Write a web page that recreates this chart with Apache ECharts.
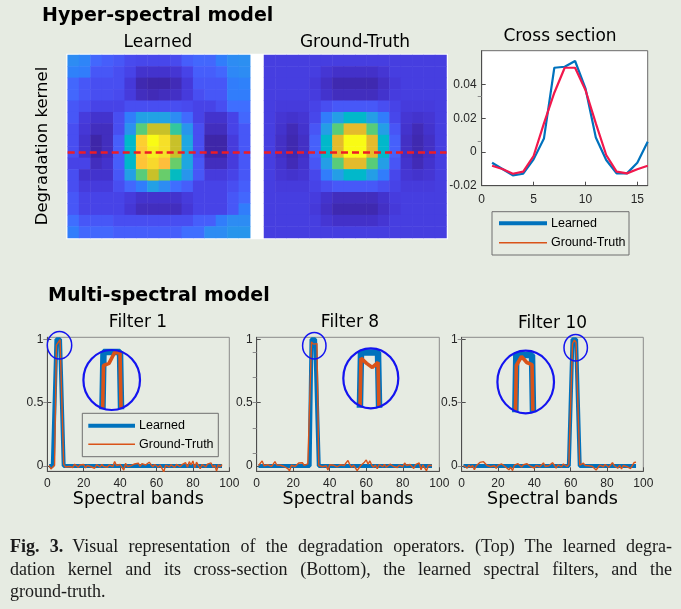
<!DOCTYPE html>
<html><head><meta charset="utf-8">
<script src="https://cdn.jsdelivr.net/npm/echarts@6/dist/echarts.min.js"></script>
<style>
html,body{margin:0;padding:0;background:#e6ebe2;}
#wrap{position:relative;width:681px;height:609px;overflow:hidden;}
#chart{position:absolute;left:0;top:0;width:681px;height:609px;}
#cap{position:absolute;left:10px;top:535px;width:662px;font-family:'Liberation Serif',serif;font-size:18px;color:#1a1a1a;line-height:22.5px;}
#cap div{white-space:nowrap;}
.j{text-align:justify;text-align-last:justify;}
</style></head>
<body><div id="wrap"><div id="chart"></div>
<div id="cap">
<div class="j"><b>Fig. 3.</b>&ensp;Visual representation of the degradation operators. (Top) The learned degra-</div>
<div class="j">dation kernel and its cross-section (Bottom), the learned spectral filters, and the</div>
<div>ground-truth.</div>
</div></div>
<script>
const BG = '#e6ebe2';
const BLUE = '#0072bd', ORANGE = '#d95319', RED = '#f2184c';

const parula = ['#3e26a8','#402ab4','#422ebf','#4332cb','#4537d5','#463cde','#4741e5','#4747eb','#484df0','#4852f4','#4758f8','#465efb','#4563fc','#4269fe','#3e6fff','#3875fe','#327bfc','#2f81fa','#2e87f7','#2d8cf3','#2b91ef','#2796eb','#259be7','#23a0e5','#20a5e3','#1ca9df','#18addb','#12b1d6','#08b5d0','#01b8ca','#02bac3','#0bbdbc','#19bfb6','#24c1ae','#2cc3a7','#31c69f','#37c897','#3fca8e','#4acb84','#57cc7a','#64cd6f','#71cc64','#80cc59','#8fca4e','#9dc943','#abc739','#b9c431','#c5c22a','#d1bf27','#dcbd29','#e6bb2d','#efba36','#f8ba3d','#febe3c','#fec338','#fec934','#fccf30','#f9d62d','#f7dc2a','#f5e327','#f5e924','#f5ef20','#f7f51b','#f9fb15'];

// Learned degradation kernel (16x16), colour level (0 = darkest, 1 = brightest)
const kernelLearned = [
 [0.30,0.28,0.20,0.175,0.155,0.12,0.11,0.11,0.11,0.12,0.175,0.20,0.20,0.26,0.30,0.31],
 [0.27,0.26,0.155,0.155,0.13,0.10,0.05,0.05,0.05,0.06,0.10,0.175,0.175,0.20,0.29,0.30],
 [0.20,0.155,0.13,0.13,0.13,0.07,0.01,0.0,0.0,0.02,0.07,0.155,0.155,0.155,0.26,0.27],
 [0.20,0.155,0.13,0.13,0.12,0.075,0.03,0.02,0.03,0.04,0.075,0.13,0.155,0.155,0.26,0.26],
 [0.155,0.13,0.10,0.10,0.10,0.13,0.13,0.13,0.13,0.13,0.12,0.10,0.10,0.13,0.22,0.22],
 [0.155,0.075,0.05,0.05,0.13,0.26,0.365,0.37,0.37,0.30,0.21,0.10,0.05,0.05,0.10,0.20],
 [0.13,0.065,0.03,0.03,0.13,0.32,0.62,0.75,0.75,0.56,0.33,0.13,0.03,0.03,0.10,0.155],
 [0.13,0.05,0.0,0.03,0.175,0.46,0.89,1.0,0.93,0.75,0.39,0.13,0.0,0.0,0.075,0.155],
 [0.13,0.05,0.0,0.03,0.175,0.46,0.87,0.97,0.93,0.75,0.39,0.13,0.0,0.0,0.075,0.155],
 [0.10,0.10,0.03,0.05,0.175,0.46,0.86,0.91,0.84,0.64,0.39,0.155,0.03,0.03,0.075,0.155],
 [0.13,0.05,0.05,0.05,0.155,0.365,0.62,0.75,0.64,0.48,0.33,0.155,0.075,0.075,0.10,0.155],
 [0.13,0.075,0.075,0.075,0.13,0.20,0.26,0.365,0.30,0.22,0.175,0.10,0.10,0.10,0.13,0.175],
 [0.155,0.10,0.10,0.10,0.10,0.075,0.05,0.05,0.05,0.05,0.075,0.10,0.10,0.10,0.155,0.20],
 [0.155,0.10,0.10,0.10,0.10,0.065,0.03,0.03,0.03,0.03,0.065,0.10,0.10,0.10,0.155,0.26],
 [0.22,0.155,0.155,0.155,0.13,0.13,0.13,0.13,0.13,0.13,0.13,0.175,0.175,0.26,0.30,0.30],
 [0.26,0.20,0.20,0.20,0.175,0.175,0.175,0.175,0.175,0.175,0.22,0.22,0.30,0.30,0.33,0.33]
];
// Ground-truth degradation kernel (16x16)
const kernelTruth = [
 [0.085,0.085,0.085,0.085,0.085,0.085,0.085,0.085,0.085,0.085,0.085,0.085,0.085,0.085,0.085,0.085],
 [0.085,0.085,0.085,0.085,0.085,0.06,0.045,0.045,0.045,0.045,0.06,0.085,0.085,0.085,0.085,0.085],
 [0.085,0.085,0.085,0.085,0.07,0.04,0.01,0.01,0.01,0.01,0.04,0.07,0.085,0.085,0.085,0.085],
 [0.085,0.085,0.085,0.085,0.08,0.05,0.03,0.03,0.03,0.03,0.05,0.08,0.085,0.085,0.085,0.085],
 [0.085,0.075,0.075,0.075,0.10,0.13,0.16,0.16,0.16,0.16,0.13,0.10,0.075,0.075,0.075,0.085],
 [0.085,0.06,0.05,0.06,0.11,0.26,0.36,0.46,0.46,0.36,0.26,0.11,0.06,0.05,0.06,0.085],
 [0.085,0.05,0.02,0.05,0.15,0.36,0.62,0.79,0.79,0.62,0.36,0.15,0.05,0.02,0.05,0.085],
 [0.085,0.04,0.01,0.04,0.18,0.46,0.79,1.0,1.0,0.79,0.46,0.18,0.04,0.01,0.04,0.085],
 [0.085,0.04,0.01,0.04,0.18,0.46,0.79,1.0,1.0,0.79,0.46,0.18,0.04,0.01,0.04,0.085],
 [0.085,0.05,0.02,0.05,0.15,0.36,0.62,0.79,0.79,0.62,0.36,0.15,0.05,0.02,0.05,0.085],
 [0.085,0.06,0.05,0.06,0.11,0.26,0.36,0.46,0.46,0.36,0.26,0.11,0.06,0.05,0.06,0.085],
 [0.085,0.075,0.075,0.075,0.10,0.13,0.16,0.16,0.16,0.16,0.13,0.10,0.075,0.075,0.075,0.085],
 [0.085,0.085,0.085,0.085,0.08,0.05,0.03,0.03,0.03,0.03,0.05,0.08,0.085,0.085,0.085,0.085],
 [0.085,0.085,0.085,0.085,0.07,0.04,0.01,0.01,0.01,0.01,0.04,0.07,0.085,0.085,0.085,0.085],
 [0.085,0.085,0.085,0.085,0.085,0.06,0.045,0.045,0.045,0.045,0.06,0.085,0.085,0.085,0.085,0.085],
 [0.085,0.085,0.085,0.085,0.085,0.085,0.085,0.085,0.085,0.085,0.085,0.085,0.085,0.085,0.085,0.085]
];
const crossRow = 8; // 0-based row of the cross section

// Cross section
const crossPos = [1,2,3,4,5,6,7,8,9,10,11,12,13,14,15,16];
const crossLearned = [-0.0064,-0.0101,-0.0139,-0.0129,-0.0044,0.0080,0.0499,0.0505,0.0539,0.0377,0.0086,-0.0048,-0.0127,-0.0127,-0.0064,0.0061];
const crossTruth   = [-0.0082,-0.0101,-0.0129,-0.0117,-0.0024,0.0169,0.0351,0.0499,0.0499,0.0367,0.0169,-0.0018,-0.0117,-0.0127,-0.0103,-0.0082];
const crossXTicks = [0,5,10,15];
const crossYTicks = [-0.02,0,0.02,0.04];

// Spectral filters (96 bands)
const f1Learned = [
 0,0,0,0,1,1,1,1,0,0,0,0,0,0,0,0,
 0,0,0,0,0,0,0,0,0,0,0,0,0,0,0,0,
 0,0,0,0,0,0,0,0,0,0,0,0,0,0,0,0,
 0,0,0,0,0,0,0,0,0,0,0,0,0,0,0,0,
 0,0,0,0,0,0,0,0,0,0,0,0,0,0,0,0,
 0,0,0,0,0,0,0,0,0,0,0,0,0,0,0,0];
const f1Truth = [
 0.004,-0.024,-0.012,0.006,0.955,0.962,0.998,1.0,0.012,-0.008,0.006,-0.004,0.010,-0.012,0.014,0.002,
 -0.010,0.008,-0.004,0.012,-0.015,0.004,0.016,-0.006,0.002,-0.018,0.010,0.004,-0.008,0.012,-0.004,0.006,
 -0.010,0.008,0.014,-0.006,0.036,0.004,-0.010,0.012,0.006,-0.032,0.020,-0.004,0.010,0.002,-0.012,0.016,
 0.006,0.022,-0.004,0.018,0.028,0.008,0.014,0.030,0.010,-0.006,0.012,0.004,-0.010,0.008,0.014,-0.046,
 0.006,0.018,-0.008,0.010,0.004,-0.012,0.012,0.006,-0.006,0.010,0.002,0.026,-0.010,0.034,0.008,0.040,
 -0.014,0.030,0.004,-0.022,0.012,0.006,-0.008,0.014,0.002,0.024,-0.010,0.006,-0.040,0.010,-0.006,0.012];
const f8Learned = [
 0,0,0,0,0,0,0,0,0,0,0,0,0,0,0,0,
 0,0,0,0,0,0,0,0,0,0,0,0,0,1,1,1,
 1,0,0,0,0,0,0,0,0,0,0,0,0,0,0,0,
 0,0,0,0,0,0,0,0,0,0,0,0,0,0,0,0,
 0,0,0,0,0,0,0,0,0,0,0,0,0,0,0,0,
 0,0,0,0,0,0,0,0,0,0,0,0,0,0,0,0];
const f8Truth = [
 0.004,0.012,0.040,0.002,-0.006,0.010,0.004,-0.004,0.014,0.034,0.008,-0.006,0.006,0.012,-0.004,0.002,
 -0.020,-0.038,0.006,0.012,-0.004,0.008,0.024,0.018,0.026,0.004,0.010,0.016,0.020,0.980,0.962,0.948,
 0.966,0.004,0.010,-0.006,0.008,0.002,-0.032,0.010,-0.004,0.006,0.012,-0.008,0.004,0.010,0.018,0.004,
 0.026,0.044,0.010,-0.010,0.006,-0.014,-0.036,-0.028,0.004,0.012,0.030,0.048,0.014,0.040,0.006,-0.010,
 0.008,-0.022,0.010,0.002,-0.006,0.012,-0.010,0.004,0.014,0.026,-0.004,0.008,-0.012,0.006,0.010,-0.006,
 0.024,0.004,-0.010,0.012,0.002,-0.020,0.010,0.004,0.024,-0.030,0.008,0.012,-0.038,0.006,0.010,0.004];
const f10Learned = [
 0,0,0,0,0,0,0,0,0,0,0,0,0,0,0,0,
 0,0,0,0,0,0,0,0,0,0,0,0,0,0,0,0,
 0,0,0,0,0,0,0,0,0,0,0,0,0,0,0,0,
 0,0,0,0,0,0,0,0,0,0,0,0,1,1,1,1,
 0,0,0,0,0,0,0,0,0,0,0,0,0,0,0,0,
 0,0,0,0,0,0,0,0,0,0,0,0,0,0,0,0];
const f10Truth = [
 0.004,-0.006,-0.018,0.006,-0.012,0.004,-0.030,0.002,0.010,0.028,0.020,0.034,0.026,0.004,0.010,-0.006,
 0.008,0.002,-0.018,0.004,0.012,0.016,0.002,-0.006,0.008,-0.030,-0.010,-0.036,0.006,0.012,0.018,0.004,
 -0.008,0.010,0.002,0.018,0.006,-0.004,0.010,-0.016,0.004,0.012,-0.006,0.008,0.024,-0.004,0.010,0.002,
 0.014,0.026,0.006,-0.018,0.008,0.004,-0.008,0.016,0.006,-0.004,0.012,0.008,0.965,0.995,0.975,0.968,
 0.006,0.012,0.022,0.004,-0.006,0.002,0.010,-0.004,0.008,-0.032,-0.020,0.006,0.010,-0.006,0.012,0.004,
 -0.010,0.008,0.026,0.002,-0.008,-0.018,0.006,-0.024,0.004,0.010,-0.006,0.008,-0.020,0.004,0.028,0.030];
const filterXTicks = [0,20,40,60,80,100];
const filterYTicks = [0,0.5,1];
const filter8RightTicks = [0.1,0.3,0.5,0.7,0.9];
const crossRightTicks = [0.0333,0.0063];
const filterTitles = ['Filter 1','Filter 8','Filter 10'];
// zoomed windows of the insets [xmin,xmax]
const insetWindows = [[2,11],[27,36],[58,67]];

const bands = f1Truth.map((_, i) => i + 1);
const pair = (xs, ys) => xs.map((x, i) => [x, ys[i]]);
const cells = m => { const d = []; m.forEach((row, r) => row.forEach((v, c) => d.push([c, r, v]))); return d; };
const idx16 = crossPos.map(String);

const TICK = '#4d4d4d', LAB = '#262626';
const SANS = 'Liberation Sans', DV = 'DejaVu Sans';

const grids = [
  {left:67.7, top:55, width:182.5, height:183},
  {left:264, top:55, width:182.5, height:183},
  {left:481.7, top:50.7, width:166, height:135, show:true, backgroundColor:'#fff', borderColor:'#6a6a6a', borderWidth:1},
  {left:47.3, top:337.3, width:182, height:134, show:true, borderColor:'#8a8a8a', borderWidth:1},
  {left:256.7, top:337.3, width:182.6, height:134, show:true, borderColor:'#8a8a8a', borderWidth:1},
  {left:461.7, top:337.3, width:181.6, height:134, show:true, borderColor:'#8a8a8a', borderWidth:1},
  {left:87, top:349, width:49.5, height:57},
  {left:344, top:349.5, width:51, height:55},
  {left:500.6, top:352, width:47.1, height:57}
];

function valAxis(gi, min, max, ticks, extra) {
  return Object.assign({
    type:'value', gridIndex:gi, min:min, max:max,
    axisLine:{show:true, onZero:false, lineStyle:{color:TICK, width:1}},
    axisTick:{show:true, inside:true, length:4, customValues:ticks, lineStyle:{color:TICK}},
    axisLabel:{show:true, customValues:ticks, color:LAB, fontFamily:SANS, fontSize:12},
    splitLine:{show:false}
  }, extra || {});
}
function hiddenAxis(gi, min, max, inverse) {
  return {type:'value', gridIndex:gi, min:min, max:max, show:false, inverse:!!inverse, splitLine:{show:false}};
}
function tickOnlyAxis(gi, min, max, ticks) {
  return {type:'value', gridIndex:gi, position:'right', min:min, max:max,
    axisLine:{show:false}, axisLabel:{show:false}, splitLine:{show:false},
    axisTick:{show:true, inside:true, length:4, customValues:ticks, lineStyle:{color:'#8a8a8a'}}};
}

const xAxis = [
  {type:'category', gridIndex:0, data:idx16, show:false},
  {type:'category', gridIndex:1, data:idx16, show:false},
  valAxis(2, 0, 16, crossXTicks, {axisLabel:{customValues:crossXTicks, color:LAB, fontFamily:SANS, fontSize:12, margin:8}}),
];
const yAxis = [
  {type:'category', gridIndex:0, data:idx16, show:false, inverse:true},
  {type:'category', gridIndex:1, data:idx16, show:false, inverse:true},
  valAxis(2, -0.02, 0.06, crossYTicks, {axisLabel:{customValues:crossYTicks, color:LAB, fontFamily:SANS, fontSize:12, margin:5}}),
];
[3,4,5].forEach(gi => {
  xAxis.push(valAxis(gi, 0, 100, filterXTicks, {
    axisLabel:{customValues:filterXTicks, color:LAB, fontFamily:SANS, fontSize:12, margin:6},
    name:'Spectral bands', nameLocation:'middle', nameGap:17,
    nameTextStyle:{fontFamily:DV, fontSize:17.5, color:'#000', verticalAlign:'top'}
  }));
  yAxis.push(valAxis(gi, -0.042, 1.016, filterYTicks, {
    axisLabel:{customValues:filterYTicks, color:LAB, fontFamily:SANS, fontSize:12, margin:4}
  }));
});
insetWindows.forEach((w, k) => {
  xAxis.push(hiddenAxis(6 + k, w[0], w[1]));
  yAxis.push(hiddenAxis(6 + k, 0.82, 1.01));
});
// mirrored inner ticks on the right edges
yAxis.push(tickOnlyAxis(2, -0.02, 0.06, crossRightTicks));   // 9
yAxis.push(tickOnlyAxis(3, -0.042, 1.016, filterYTicks));    // 10
yAxis.push(tickOnlyAxis(4, -0.042, 1.016, filter8RightTicks)); // 11
yAxis.push(tickOnlyAxis(5, -0.042, 1.016, filterYTicks));    // 12

const dashLine = {silent:true, symbol:'none', label:{show:false},
  lineStyle:{color:'#ee1c25', width:2.6, type:[7,4]}, data:[{yAxis: crossRow}]};

function heat(gi, m) {
  return {type:'heatmap', xAxisIndex:gi, yAxisIndex:gi, data:cells(m), emphasis:{disabled:true},
    itemStyle:{borderWidth:0}, markLine:dashLine, z:2};
}
function line(xi, yi, xs, ys, color, width, z) {
  return {type:'line', xAxisIndex:xi, yAxisIndex:yi, data:pair(xs, ys), symbol:'none', clip:true,
    lineStyle:{color:color, width:width}, z:z || 3, silent:true};
}

const learnedF = [f1Learned, f8Learned, f10Learned];
const truthF = [f1Truth, f8Truth, f10Truth];

const series = [
  heat(0, kernelLearned),
  heat(1, kernelTruth),
  line(2, 2, crossPos, crossLearned, BLUE, 2.2, 3),
  line(2, 2, crossPos, crossTruth, RED, 2.2, 4)
];
for (let k = 0; k < 3; k++) {
  series.push(line(3 + k, 3 + k, bands, learnedF[k], BLUE, 4, 3));
  series.push(line(3 + k, 3 + k, bands, truthF[k], ORANGE, 1.4, 4));
}
for (let k = 0; k < 3; k++) {
  series.push(line(6 + k, 6 + k, bands, learnedF[k], BLUE, 6.5, 5));
  series.push(line(6 + k, 6 + k, bands, truthF[k], ORANGE, 3.6, 6));
}

function txt(text, x, y, size, opts) {
  return Object.assign({type:'text', x:x, y:y, z:20, silent:true,
    style:{text:text, fontSize:size, fontFamily:DV, fill:'#000', align:'center', verticalAlign:'middle'}}, opts || {});
}
function legendBox(x, y, w, h, ly1, ly2, lx1, lx2, tx) {
  return [
    {type:'rect', z:20, silent:true, shape:{x:x, y:y, width:w, height:h}, style:{fill:BG, stroke:'#6e6e6e', lineWidth:1}},
    {type:'line', z:21, silent:true, shape:{x1:lx1, y1:ly1, x2:lx2, y2:ly1}, style:{stroke:BLUE, lineWidth:4}},
    {type:'line', z:21, silent:true, shape:{x1:lx1, y1:ly2, x2:lx2, y2:ly2}, style:{stroke:ORANGE, lineWidth:1.5}},
    {type:'text', z:21, silent:true, x:tx, y:ly1, style:{text:'Learned', fontSize:12.5, fontFamily:SANS, fill:'#000', align:'left', verticalAlign:'middle'}},
    {type:'text', z:21, silent:true, x:tx, y:ly2, style:{text:'Ground-Truth', fontSize:12.5, fontFamily:SANS, fill:'#000', align:'left', verticalAlign:'middle'}}
  ];
}
function ell(cx, cy, rx, ry, w) {
  return {type:'ellipse', z:22, silent:true, shape:{cx:cx, cy:cy, rx:rx, ry:ry}, style:{fill:null, stroke:'#1414f0', lineWidth:w}};
}

const graphic = [
  {type:'rect', z:0, silent:true, shape:{x:66.3, y:53.8, width:381.6, height:185.5}, style:{fill:'#ffffff'}},
  txt('Hyper-spectral model', 42, 16, 19, {style:{text:'Hyper-spectral model', fontSize:19, fontWeight:'bold', fontFamily:DV, fill:'#000', align:'left', verticalAlign:'middle'}}),
  txt('Learned', 158, 43, 17),
  txt('Ground-Truth', 355, 43, 17),
  txt('Degradation kernel', 43, 146, 16.5, {rotation:Math.PI/2}),
  txt('Cross section', 560, 37, 17),
  txt('Multi-spectral model', 48, 296, 19, {style:{text:'Multi-spectral model', fontSize:19, fontWeight:'bold', fontFamily:DV, fill:'#000', align:'left', verticalAlign:'middle'}}),
  txt(filterTitles[0], 138, 323, 17),
  txt(filterTitles[1], 350, 323, 17),
  txt(filterTitles[2], 552.5, 324, 17),
  ...legendBox(492, 211.7, 137, 43.3, 223.3, 242.7, 499, 547, 551),
  ...legendBox(82.3, 413.3, 136, 43.4, 425.7, 444.3, 88.3, 135, 139),
  ell(59.5, 345.3, 12.2, 13.7, 1.5),
  ell(111.7, 380, 28.3, 30, 2.2),
  ell(314.3, 345.7, 11.7, 13.3, 1.5),
  ell(370.8, 378.3, 27.5, 30, 2.2),
  ell(575.7, 347.7, 11.7, 13.3, 1.5),
  ell(525.7, 382, 28.3, 31.3, 2.2)
];

const chart = echarts.init(document.getElementById('chart'), null, {renderer:'canvas'});
chart.setOption({
  backgroundColor: BG,
  animation: false,
  grid: grids,
  xAxis: xAxis,
  yAxis: yAxis,
  visualMap: [
    {type:'continuous', show:false, seriesIndex:0, min:0, max:1, inRange:{color:parula}},
    {type:'continuous', show:false, seriesIndex:1, min:0, max:1, inRange:{color:parula}}
  ],
  series: series,
  graphic: graphic
});
</script>
</body></html>
